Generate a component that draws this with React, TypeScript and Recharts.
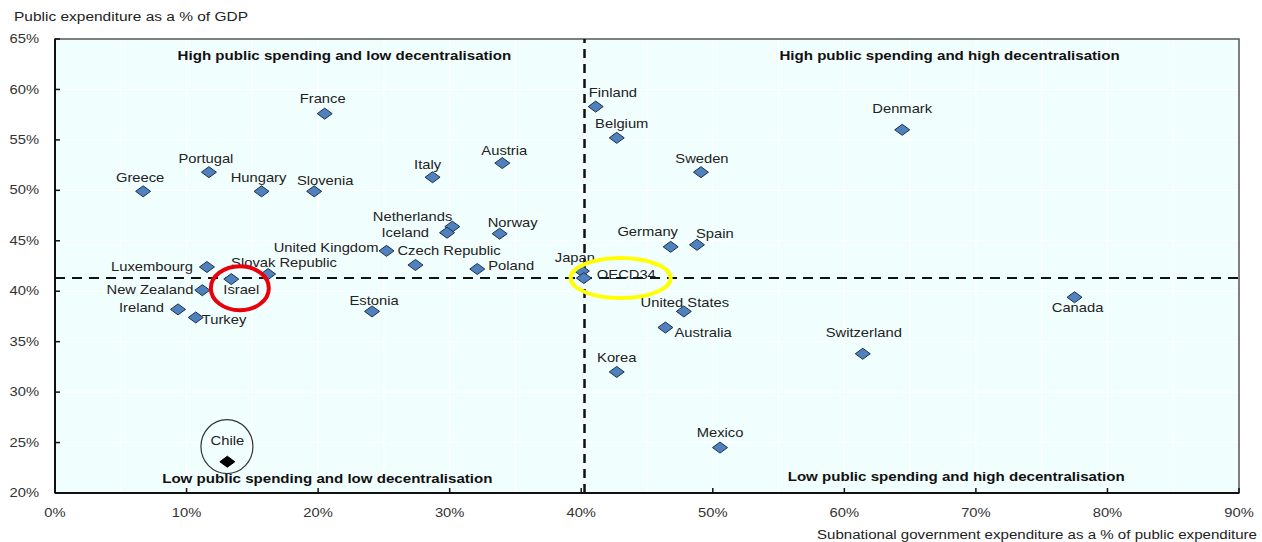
import { ScatterChart, Scatter, XAxis, YAxis, CartesianGrid, ReferenceLine, ReferenceArea, ReferenceDot } from 'recharts';

const countries = [
  'France', 'Finland', 'Belgium', 'Denmark', 'Austria', 'Sweden', 'Portugal', 'Italy', 'Greece', 'Hungary',
  'Slovenia', 'Netherlands', 'Iceland', 'Norway', 'Germany', 'Spain', 'United Kingdom', 'Czech Republic', 'Poland', 'Luxembourg',
  'Slovak Republic', 'Japan', 'OECD34', 'Israel', 'New Zealand', 'Ireland', 'Turkey', 'Estonia', 'United States', 'Australia',
  'Canada', 'Switzerland', 'Korea', 'Mexico', 'Chile',
];
// subnational government expenditure as % of public expenditure
const subnationalShare = [
  20.5, 41.1, 42.7, 64.4, 34.0, 49.1, 11.7, 28.7, 6.7, 15.7,
  19.7, 30.2, 29.8, 33.8, 46.8, 48.8, 25.2, 27.4, 32.1, 11.55,
  16.2, 40.05, 40.2, 13.4, 11.2, 9.35, 10.7, 24.1, 47.8, 46.4,
  77.5, 61.4, 42.7, 50.55, 13.1,
];
// public expenditure as % of GDP
const publicSpending = [
  57.6, 58.3, 55.2, 56.0, 52.7, 51.8, 51.8, 51.3, 49.9, 49.9,
  49.9, 46.4, 45.8, 45.7, 44.4, 44.6, 44.0, 42.6, 42.2, 42.4,
  41.7, 42.0, 41.3, 41.2, 40.1, 38.2, 37.4, 38.0, 38.0, 36.4,
  39.4, 33.8, 32.0, 24.5, 23.1,
];
const highlighted = ['Chile'];
const oecdShare = 40.25;
const oecdSpending = 41.3;

const xTicks = [0, 10, 20, 30, 40, 50, 60, 70, 80, 90];
const yTicks = [20, 25, 30, 35, 40, 45, 50, 55, 60, 65];
const gridX = [5, 10, 15, 20, 25, 30, 35, 40, 45, 50, 55, 60, 65, 70, 75, 80, 85];

const quadrants = [
  { text: 'High public spending and low decentralisation', x: 22.0, y: 63.4 },
  { text: 'High public spending and high decentralisation', x: 68.0, y: 63.4 },
  { text: 'Low public spending and low decentralisation', x: 20.7, y: 21.4 },
  { text: 'Low public spending and high decentralisation', x: 68.5, y: 21.6 },
];

// label placement: [anchor, dx, dy] relative to the marker
const labelSpots: Record<string, [string, number, number]> = {
  France: ['middle', -2, -15],
  Finland: ['start', -7, -14],
  Belgium: ['middle', 5, -14],
  Denmark: ['middle', 0, -21],
  Austria: ['middle', 2, -12],
  Sweden: ['middle', 1, -13],
  Portugal: ['middle', -3, -13],
  Italy: ['middle', -5, -12],
  Greece: ['middle', -3, -13],
  Hungary: ['middle', -3, -13],
  Slovenia: ['middle', 11, -10],
  Netherlands: ['end', 0, -10],
  Iceland: ['end', -18, 0],
  Norway: ['middle', 13, -11],
  Germany: ['middle', -23, -15],
  Spain: ['start', -1, -11],
  'United Kingdom': ['end', -8, -3],
  'Czech Republic': ['start', -18, -14],
  Poland: ['start', 11, -3],
  Luxembourg: ['end', -14, 0],
  'Slovak Republic': ['start', -37, -11],
  Japan: ['middle', -7, -13],
  OECD34: ['start', 13, -3],
  Israel: ['start', -8, 11],
  'New Zealand': ['end', -9, 0],
  Ireland: ['end', -14, -1],
  Turkey: ['start', 6, 2],
  Estonia: ['middle', 2, -11],
  'United States': ['middle', 1, -9],
  Australia: ['start', 9, 5],
  Canada: ['middle', 3, 11],
  Switzerland: ['middle', 1, -21],
  Korea: ['middle', 0, -14],
  Mexico: ['middle', 0, -15],
  Chile: ['middle', 0, -21],
};

const points = countries.map((name, i) => ({ name, x: subnationalShare[i], y: publicSpending[i] }));

const FONT = 'Liberation Sans, Arial, sans-serif';

function StretchText({ x, y, anchor = 'middle', size = 12.5, weight = 'normal', fill = '#222', children }: any) {
  return (
    <text
      transform={`translate(${x},${y}) scale(1.18,1)`}
      textAnchor={anchor}
      dominantBaseline="central"
      fontSize={size}
      fontWeight={weight}
      fontFamily={FONT}
      fill={fill}
    >
      {children}
    </text>
  );
}

function Marker(props: any) {
  const { cx, cy, payload } = props;
  const dark = highlighted.includes(payload.name);
  const spot = labelSpots[payload.name] || ['middle', 0, -13];
  const w = 7.5;
  const h = 5.5;
  return (
    <g>
      <polygon
        points={`${cx - w},${cy} ${cx},${cy - h} ${cx + w},${cy} ${cx},${cy + h}`}
        fill={dark ? '#000' : '#4f81bd'}
        stroke={dark ? '#000' : '#1f2f4f'}
        strokeWidth={1}
      />
      <StretchText x={cx + spot[1]} y={cy + spot[2]} anchor={spot[0]}>{payload.name}</StretchText>
    </g>
  );
}

function YTick(props: any) {
  const { x, y, payload } = props;
  return (
    <g>
      <line x1={x} x2={x + 5} y1={y} y2={y} stroke="#111" strokeWidth={1.5} />
      <StretchText x={x - 16} y={y} anchor="end" fill="#333">{`${payload.value}%`}</StretchText>
    </g>
  );
}

function XTick(props: any) {
  const { x, y, payload } = props;
  return (
    <g>
      <line x1={x} x2={x} y1={y} y2={y - 5} stroke="#111" strokeWidth={1.5} />
      <StretchText x={x} y={y + 20} fill="#333">{`${payload.value}%`}</StretchText>
    </g>
  );
}

function Ellipse({ rx, ry, color, width }: { rx: number; ry: number; color: string; width: number }) {
  return (props: any) => (
    <ellipse cx={props.cx} cy={props.cy} rx={rx} ry={ry} fill="none" stroke={color} strokeWidth={width} />
  );
}

export default function App() {
  return (
    <div style={{ position: 'absolute', left: 0, top: 0, width: 1262, height: 542, background: '#fff' }}>
      <ScatterChart width={1262} height={542} margin={{ top: 39, right: 23, bottom: 0, left: 0 }}>
        <CartesianGrid fill="#f1fefe" stroke="#ffffff" strokeWidth={1} verticalValues={gridX} />
        <XAxis
          type="number"
          dataKey="x"
          domain={[0, 90]}
          ticks={xTicks}
          height={49}
          tickSize={0}
          tickMargin={0}
          tick={<XTick />}
          axisLine={{ stroke: '#111', strokeWidth: 2 }}
          tickLine={false}
        />
        <YAxis
          type="number"
          dataKey="y"
          domain={[20, 65]}
          ticks={yTicks}
          width={55}
          tickSize={0}
          tickMargin={0}
          tick={<YTick />}
          axisLine={{ stroke: '#111', strokeWidth: 2 }}
          tickLine={false}
        />
        <ReferenceArea x1={0} x2={90} y1={20} y2={65} fill="none" stroke="#555" strokeWidth={1.5} />
        <ReferenceLine y={oecdSpending} stroke="#111" strokeWidth={2} strokeDasharray="10 7" />
        <ReferenceLine x={oecdShare} stroke="#111" strokeWidth={2.5} strokeDasharray="9 6" />
        {quadrants.map((q) => (
          <ReferenceDot
            key={q.text}
            x={q.x}
            y={q.y}
            r={0}
            shape={(p: any) => (
              <StretchText x={p.cx} y={p.cy} size={12.8} weight="bold" fill="#111">{q.text}</StretchText>
            )}
          />
        ))}
        <Scatter data={points} isAnimationActive={false} shape={<Marker />} />
        <ReferenceDot x={14.05} y={40.3} r={0} shape={Ellipse({ rx: 29, ry: 22, color: '#e8000b', width: 4 })} />
        <ReferenceDot x={43.0} y={41.3} r={0} shape={Ellipse({ rx: 50, ry: 20, color: '#ffff00', width: 4 })} />
        <ReferenceDot x={13.07} y={24.6} r={0} shape={Ellipse({ rx: 26, ry: 27, color: '#333', width: 1.2 })} />
      </ScatterChart>
      <svg width={1262} height={542} style={{ position: 'absolute', left: 0, top: 0, pointerEvents: 'none' }}>
        <text x={14} y={17} dominantBaseline="central" fontSize={12.5} fontFamily={FONT} fill="#222" textLength={234} lengthAdjust="spacingAndGlyphs">
          Public expenditure as a % of GDP
        </text>
        <text x={817} y={535} dominantBaseline="central" fontSize={12.5} fontFamily={FONT} fill="#222" textLength={440} lengthAdjust="spacingAndGlyphs">
          Subnational government expenditure as a % of public expenditure
        </text>
      </svg>
    </div>
  );
}
